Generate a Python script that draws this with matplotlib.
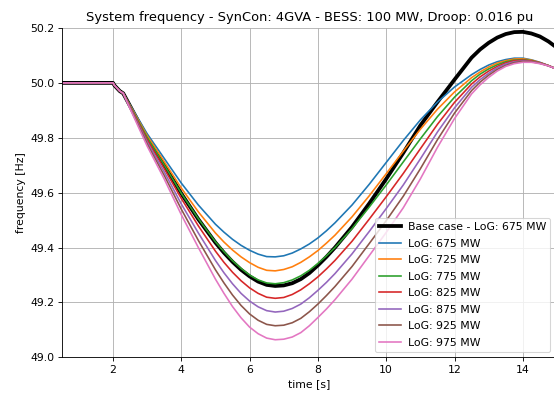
import matplotlib
matplotlib.use("Agg")
import matplotlib.pyplot as plt

# time axis [s]
time = [0.5, 1.0, 1.5, 2.0, 2.05, 2.2, 2.3, 2.5, 3.0, 3.5, 4.0, 4.5, 5.0, 5.25,
        5.5, 5.75, 6.0, 6.25, 6.5, 6.75, 7.0, 7.25, 7.5, 7.75, 8.0, 8.25, 8.5,
        9.0, 9.5, 10.0, 10.5, 11.0, 11.5, 12.0, 12.5, 12.75, 13.0, 13.25, 13.5,
        13.75, 14.0, 14.25, 14.5, 14.75, 15.0]

# frequency [Hz]
base_case = [50.0, 50.0, 50.0, 50.0, 49.99, 49.97, 49.962, 49.916, 49.800, 49.700,
             49.597, 49.503, 49.418, 49.381, 49.348, 49.319, 49.295, 49.276, 49.264,
             49.260, 49.262, 49.270, 49.285, 49.307, 49.335, 49.366, 49.400, 49.475,
             49.560, 49.650, 49.745, 49.845, 49.930, 50.012, 50.092, 50.122, 50.146,
             50.165, 50.178, 50.185, 50.186, 50.180, 50.169, 50.151, 50.128]
log_675 = [50.0, 50.0, 50.0, 50.0, 49.99, 49.97, 49.962, 49.920, 49.815, 49.725,
           49.635, 49.555, 49.485, 49.456, 49.430, 49.408, 49.390, 49.376, 49.367,
           49.366, 49.370, 49.380, 49.395, 49.413, 49.435, 49.461, 49.490, 49.555,
           49.630, 49.710, 49.790, 49.865, 49.930, 49.985, 50.030, 50.049, 50.065,
           50.077, 50.085, 50.090, 50.090, 50.084, 50.075, 50.063, 50.050]
log_725 = [50.0, 50.0, 50.0, 50.0, 49.99, 49.97, 49.962, 49.918, 49.808, 49.713,
           49.617, 49.530, 49.453, 49.420, 49.391, 49.366, 49.345, 49.328, 49.317,
           49.315, 49.320, 49.330, 49.346, 49.366, 49.389, 49.416, 49.445, 49.512,
           49.588, 49.669, 49.751, 49.831, 49.904, 49.967, 50.019, 50.040, 50.058,
           50.072, 50.081, 50.087, 50.088, 50.083, 50.074, 50.063, 50.050]
log_775 = [50.0, 50.0, 50.0, 50.0, 49.99, 49.97, 49.962, 49.916, 49.801, 49.701,
           49.598, 49.505, 49.421, 49.385, 49.352, 49.324, 49.300, 49.282, 49.271,
           49.268, 49.272, 49.282, 49.297, 49.317, 49.342, 49.370, 49.400, 49.469,
           49.547, 49.628, 49.712, 49.796, 49.877, 49.948, 50.008, 50.032, 50.051,
           50.066, 50.077, 50.083, 50.085, 50.081, 50.073, 50.063, 50.050]
log_825 = [50.0, 50.0, 50.0, 50.0, 49.99, 49.97, 49.962, 49.914, 49.793, 49.688,
           49.579, 49.479, 49.387, 49.346, 49.310, 49.279, 49.253, 49.233, 49.219,
           49.215, 49.218, 49.229, 49.246, 49.268, 49.293, 49.322, 49.353, 49.423,
           49.503, 49.585, 49.670, 49.760, 49.849, 49.929, 49.996, 50.022, 50.043,
           50.060, 50.073, 50.081, 50.083, 50.080, 50.073, 50.063, 50.050]
log_875 = [50.0, 50.0, 50.0, 50.0, 49.99, 49.97, 49.962, 49.911, 49.785, 49.676,
           49.559, 49.453, 49.353, 49.308, 49.268, 49.233, 49.205, 49.184, 49.170,
           49.165, 49.168, 49.178, 49.194, 49.217, 49.244, 49.273, 49.305, 49.377,
           49.458, 49.542, 49.628, 49.723, 49.821, 49.909, 49.984, 50.012, 50.035,
           50.055, 50.069, 50.077, 50.080, 50.078, 50.072, 50.062, 50.050]
log_925 = [50.0, 50.0, 50.0, 50.0, 49.99, 49.97, 49.962, 49.909, 49.778, 49.663,
           49.540, 49.426, 49.319, 49.271, 49.227, 49.189, 49.158, 49.135, 49.120,
           49.115, 49.117, 49.126, 49.142, 49.166, 49.194, 49.225, 49.258, 49.331,
           49.414, 49.498, 49.587, 49.687, 49.793, 49.890, 49.972, 50.003, 50.028,
           50.049, 50.064, 50.074, 50.078, 50.077, 50.071, 50.062, 50.050]
log_975 = [50.0, 50.0, 50.0, 50.0, 49.99, 49.97, 49.962, 49.906, 49.770, 49.650,
           49.520, 49.400, 49.285, 49.233, 49.185, 49.144, 49.110, 49.086, 49.070,
           49.064, 49.066, 49.074, 49.090, 49.115, 49.145, 49.176, 49.210, 49.285,
           49.370, 49.455, 49.545, 49.650, 49.765, 49.870, 49.960, 49.993, 50.020,
           50.043, 50.060, 50.070, 50.075, 50.075, 50.070, 50.062, 50.050]

log_series = [log_675, log_725, log_775, log_825, log_875, log_925, log_975]
log_labels = ["LoG: 675 MW", "LoG: 725 MW", "LoG: 775 MW", "LoG: 825 MW",
              "LoG: 875 MW", "LoG: 925 MW", "LoG: 975 MW"]

DPI = 78
fig = plt.figure(figsize=(554 / DPI, 396 / DPI), dpi=DPI)
ax = fig.add_axes([0.1114, 0.0977, 0.894, 0.8316])

ax.plot(time, base_case, color="black", linewidth=3.5, label="Base case - LoG: 675 MW")
for i, (vals, lab) in enumerate(zip(log_series, log_labels)):
    ax.plot(time, vals, color="C%d" % i, linewidth=1.5, label=lab)

ax.set_xlim(0.5, 15)
ax.set_ylim(49.0, 50.2)
ax.set_xticks([2, 4, 6, 8, 10, 12, 14])
ax.set_yticks([49.0, 49.2, 49.4, 49.6, 49.8, 50.0, 50.2])
ax.grid(True)
ax.spines["top"].set_visible(False)
ax.spines["right"].set_visible(False)

ax.set_xlabel("time [s]")
ax.set_ylabel("frequency [Hz]")
ax.set_title("System frequency - SynCon: 4GVA - BESS: 100 MW, Droop: 0.016 pu")

ax.legend(loc="lower left", bbox_to_anchor=(375 / 554, (396 - 352) / 396),
          bbox_transform=fig.transFigure, borderaxespad=0, labelspacing=0.6,
          handletextpad=0.6)

fig.savefig("out.png", dpi=DPI)
